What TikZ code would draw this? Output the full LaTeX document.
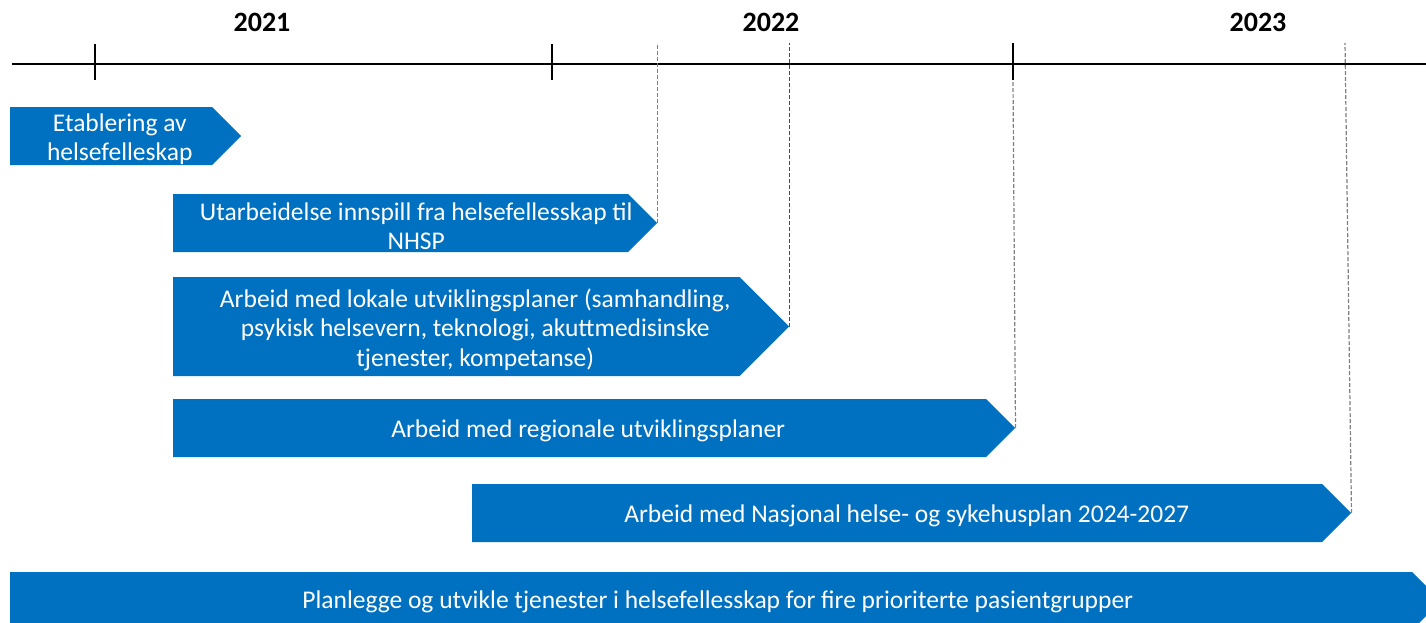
\documentclass[tikz,border=0pt]{standalone}
\usepackage{fontspec}
\setmainfont{Carlito}
\usetikzlibrary{shapes.symbols,calc}
\definecolor{bar}{HTML}{0070C0}
\begin{document}
\begin{tikzpicture}[x=1pt,y=1pt,
  phase/.style={signal, signal to=east, signal pointer angle=90, fill=bar,
    inner sep=0pt, anchor=west},
  lbl/.style={text=white, font=\fontsize{25.5}{29.5}\selectfont, align=center, inner sep=0pt},
  year/.style={font=\fontsize{28}{32}\selectfont\bfseries},
  axis/.style={line width=2pt, black},
  guide/.style={draw=gray, line width=1.2pt, dash pattern=on 4pt off 2pt}]
\clip (0,0) rectangle (1426,-622);
% timeline
\coordinate (tl0) at (12,-64);
\coordinate (tl1) at (1426,-64);
\draw[axis] (tl0) -- (tl1);
\coordinate (t1a) at (95,-44); \coordinate (t1b) at (95,-80);
\coordinate (t2a) at (552,-44); \coordinate (t2b) at (552,-80);
\coordinate (t3a) at (1013,-43); \coordinate (t3b) at (1013,-80);
\draw[axis] (t1a) -- (t1b);
\draw[axis] (t2a) -- (t2b);
\draw[axis] (t3a) -- (t3b);
\node[year] (y1) at (262,-22) {2021};
\node[year] (y2) at (771,-22) {2022};
\node[year] (y3) at (1258,-22) {2023};
% phases
\node[phase, minimum width=231pt, minimum height=58pt] (e1) at (10,-136) {};
\node[phase, minimum width=484pt, minimum height=58pt] (e2) at (173,-223) {};
\node[phase, minimum width=616pt, minimum height=99pt] (e3) at (173,-326.5) {};
\node[phase, minimum width=842pt, minimum height=58pt] (e4) at (173,-428) {};
\node[phase, minimum width=879pt, minimum height=58pt] (e5) at (472,-513) {};
\node[phase, minimum width=1431pt, minimum height=58pt] (e6) at (10,-601) {};
\node[lbl] (l1) at ($(e1.west)!0.5!(e1.east)+(-6,-3)$) {Etablering av\\helsefelleskap};
\node[lbl] (l2) at ($(e2.west)!0.5!(e2.east)+(1,-3)$) {Utarbeidelse innspill fra helsefellesskap til\\NHSP};
\node[lbl] (l3) at ($(e3.west)!0.5!(e3.east)+(-6,-3)$) {Arbeid med lokale utviklingsplaner (samhandling,\\psykisk helsevern, teknologi, akuttmedisinske\\tjenester, kompetanse)};
\node[lbl] (l4) at ($(e4.west)!0.5!(e4.east)+(-6,-3)$) {Arbeid med regionale utviklingsplaner};
\node[lbl] (l5) at ($(e5.west)!0.5!(e5.east)+(-5,-3)$) {Arbeid med Nasjonal helse- og sykehusplan 2024-2027};
\node[lbl] (l6) at ($(e6.west)!0.5!(e6.east)+(-8,-1)$) {Planlegge og utvikle tjenester i helsefellesskap for fire prioriterte pasientgrupper};
% guides
\coordinate (g2) at (e2.east |- 0,-43);
\coordinate (g3) at (e3.east |- 0,-43);
\coordinate (g5) at (1345,-43);
\draw[guide] (e2.east) -- (g2);
\draw[guide, draw=black!70] (e3.east) -- (g3);
\draw[guide] (e4.east) -- (t3b);
\draw[guide] (e5.east) -- (g5);
\end{tikzpicture}
\end{document}
